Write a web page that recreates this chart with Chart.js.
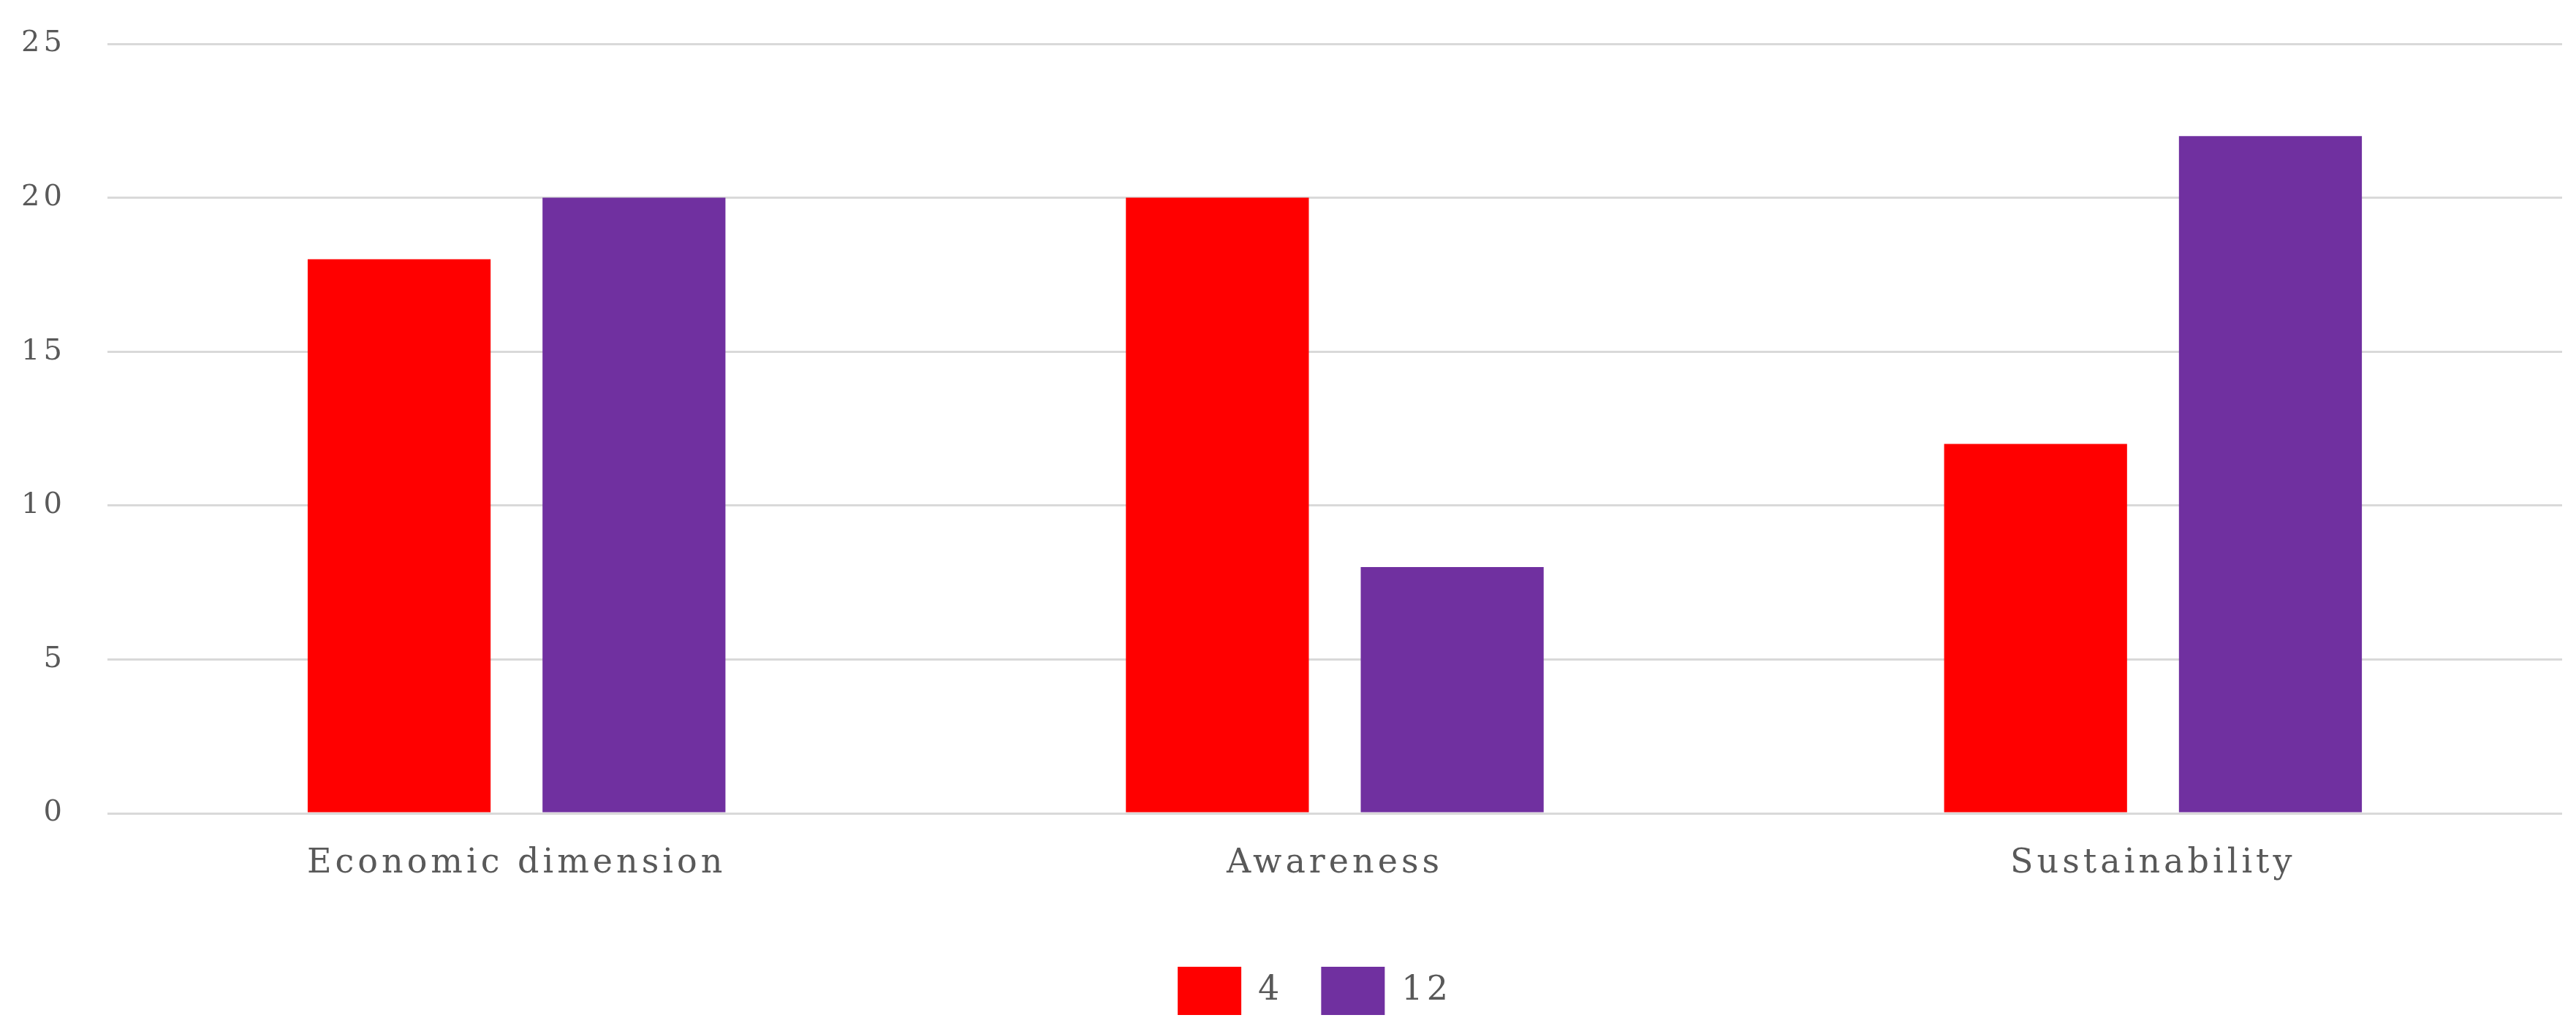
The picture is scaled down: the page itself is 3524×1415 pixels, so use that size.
<!DOCTYPE html>
<html>
<head>
<meta charset="utf-8">
<script src="https://cdn.jsdelivr.net/npm/chart.js@4/dist/chart.umd.min.js"></script>
<style>
  html, body { margin: 0; padding: 0; background: #ffffff; }
  #wrap { width: 3524px; height: 1415px; }
</style>
</head>
<body>
<div id="wrap"><canvas id="c" width="3524" height="1415"></canvas></div>
<script>
const categories = ["Economic dimension", "Awareness", "Sustainability"];
const seriesNames = ["4", "12"];
const series4 = [18, 20, 12];
const series12 = [20, 8, 22];
const yTicks = [0, 5, 10, 15, 20, 25];

const TEXT_COLOR = "#595959";
const GRID_COLOR = "#d9d9d9";
const FONT = "'DejaVu Serif', serif";

const spacingPlugin = {
  id: "spacing",
  beforeLayout(chart) { chart.ctx.letterSpacing = "5px"; },
  afterLayout(chart) {
    if (chart.legend) { chart.legend.left += 32; chart.legend.right += 32; }
  },
  beforeDraw(chart) { chart.ctx.letterSpacing = "5px"; }
};

new Chart(document.getElementById("c"), {
  type: "bar",
  data: {
    labels: categories,
    datasets: [
      { label: seriesNames[0], data: series4, backgroundColor: "#ff0000", borderWidth: 0,
        categoryPercentage: 0.574, barPercentage: 0.779 },
      { label: seriesNames[1], data: series12, backgroundColor: "#7030a0", borderWidth: 0,
        categoryPercentage: 0.574, barPercentage: 0.779 }
    ]
  },
  plugins: [spacingPlugin],
  options: {
    responsive: false,
    animation: false,
    devicePixelRatio: 1,
    layout: { padding: { left: 28, right: 19, top: 60, bottom: 16 } },
    plugins: {
      tooltip: { enabled: false },
      legend: {
        position: "bottom",
        labels: {
          boxWidth: 87, boxHeight: 66, padding: 52,
          color: TEXT_COLOR,
          font: { family: FONT, size: 46 }
        }
      }
    },
    scales: {
      x: {
        grid: { display: false },
        border: { display: false },
        ticks: { color: TEXT_COLOR, font: { family: FONT, size: 46 }, padding: 33, maxRotation: 0 },
        afterFit(scale) { scale.height = 158; }
      },
      y: {
        min: 0, max: 25,
        afterBuildTicks(scale) { scale.ticks = yTicks.map(v => ({ value: v })); },
        grid: { color: GRID_COLOR, lineWidth: 3, drawTicks: false },
        border: { display: false },
        ticks: { color: TEXT_COLOR, font: { family: FONT, size: 40 }, padding: 57 },
        afterFit(scale) { scale.width = 119; scale.paddingTop = 0; scale.paddingBottom = 0; }
      }
    }
  }
});
</script>
</body>
</html>
